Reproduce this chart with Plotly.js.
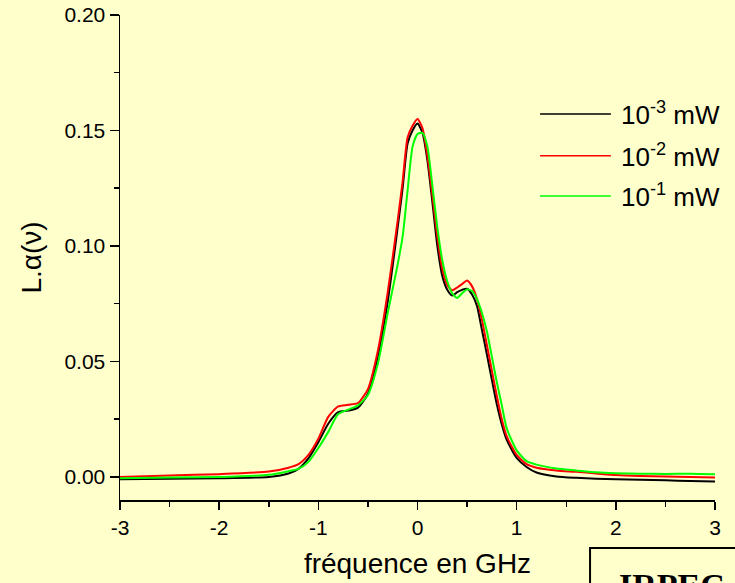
<!DOCTYPE html>
<html>
<head>
<meta charset="utf-8">
<script src="https://cdn.plot.ly/plotly-3.0.1.min.js"></script>
<style>html,body{margin:0;padding:0;background:#FFFFCC;}#chart{width:735px;height:583px;}</style>
</head>
<body>
<div id="chart"></div>
<script>
// Frequency grid (GHz)
const freq = [-3, -2.5, -2, -1.5, -1.3, -1.2, -1.1, -1.0, -0.9, -0.8, -0.7, -0.6, -0.5, -0.4, -0.3, -0.2, -0.15, -0.1, -0.05, 0, 0.05, 0.1, 0.15, 0.2, 0.25, 0.3, 0.35, 0.4, 0.45, 0.5, 0.55, 0.6, 0.65, 0.7, 0.75, 0.8, 0.85, 0.9, 1.0, 1.1, 1.2, 1.4, 1.6, 1.8, 2.0, 2.25, 2.5, 2.75, 3.0];

// L.alpha(nu) at 1e-3 mW
const p1e3 = [-0.001, -0.0008, -0.0006, 0.0, 0.0015, 0.0035, 0.008, 0.015, 0.023, 0.028, 0.0287, 0.030, 0.036, 0.052, 0.076, 0.108, 0.125, 0.1444, 0.150, 0.153, 0.149, 0.137, 0.119, 0.100, 0.087, 0.081, 0.0785, 0.080, 0.081, 0.0815, 0.079, 0.074, 0.0636, 0.053, 0.042, 0.0314, 0.0227, 0.016, 0.0082, 0.0043, 0.0019, 0.0002, -0.0004, -0.0008, -0.001, -0.0012, -0.0015, -0.0018, -0.002];

// L.alpha(nu) at 1e-2 mW
const p1e2 = [0.0, 0.0006, 0.0012, 0.0023, 0.004, 0.0055, 0.0095, 0.0165, 0.026, 0.0305, 0.0312, 0.032, 0.038, 0.0545, 0.080, 0.111, 0.128, 0.147, 0.152, 0.155, 0.151, 0.139, 0.122, 0.104, 0.090, 0.0830, 0.0808, 0.082, 0.0835, 0.085, 0.0825, 0.077, 0.068, 0.057, 0.046, 0.035, 0.025, 0.0175, 0.0095, 0.0055, 0.004, 0.0028, 0.0022, 0.0015, 0.0008, 0.0004, 0.0002, 0.0, -0.0003];

// L.alpha(nu) at 1e-1 mW
const p1e1 = [-0.0006, -0.0003, 0.0, 0.0009, 0.0025, 0.0035, 0.0065, 0.0125, 0.0195, 0.0272, 0.0291, 0.031, 0.0355, 0.049, 0.071, 0.092, 0.104, 0.124, 0.143, 0.1485, 0.149, 0.143, 0.126, 0.108, 0.0937, 0.0847, 0.0795, 0.0775, 0.0795, 0.0812, 0.0805, 0.077, 0.071, 0.063, 0.052, 0.041, 0.031, 0.021, 0.0115, 0.0068, 0.0053, 0.0036, 0.0028, 0.002, 0.0016, 0.0014, 0.0013, 0.0014, 0.0012];

const seriesNames = ['10<sup>-3</sup> mW', '10<sup>-2</sup> mW', '10<sup>-1</sup> mW'];
const seriesColors = ['#000000', '#FF0000', '#00FF00'];
const seriesValues = [p1e3, p1e2, p1e1];

const yTickVals = [0, 0.05, 0.10, 0.15, 0.20];
const yTickText = ['0.00', '0.05', '0.10', '0.15', '0.20'];
const xTickVals = [-3, -2, -1, 0, 1, 2, 3];
const xTickText = ['-3', '-2', '-1', '0', '1', '2', '3'];

const traces = seriesValues.map((v, i) => ({
  x: freq, y: v, type: 'scatter', mode: 'lines', name: seriesNames[i],
  line: {color: seriesColors[i], width: 2, shape: 'spline', smoothing: 0.6}, showlegend: false
}));

const font = 'Liberation Sans, Arial, sans-serif';
const legendY = [0.796, 0.710, 0.627];
const shapes = [];
const annotations = [];
seriesNames.forEach((n, i) => {
  shapes.push({type: 'line', xref: 'paper', yref: 'paper', x0: 0.706, x1: 0.825, y0: legendY[i], y1: legendY[i],
    line: {color: seriesColors[i], width: 1.5}});
  annotations.push({xref: 'paper', yref: 'paper', x: 0.838, y: legendY[i], xanchor: 'left', yanchor: 'middle',
    text: n, showarrow: false, font: {family: font, size: 26, color: '#000'}});
});
// partial box at bottom right
shapes.push({type: 'rect', xref: 'paper', yref: 'paper', x0: 0.79, x1: 1.2, y0: -0.099, y1: -0.5,
  line: {color: '#000', width: 2}, fillcolor: '#FFFFCC'});
annotations.push({xref: 'paper', yref: 'paper', x: 0.835, y: -0.134, xanchor: 'left', yanchor: 'top',
  text: '<b>IRPEC</b>', showarrow: false, font: {family: 'Liberation Serif, Times New Roman, serif', size: 34, color: '#000'}});

const layout = {
  width: 735, height: 583,
  paper_bgcolor: '#FFFFCC', plot_bgcolor: '#FFFFCC',
  margin: {l: 120, r: 20, t: 15, b: 83},
  showlegend: false,
  xaxis: {
    range: [-3, 3], tickvals: xTickVals, ticktext: xTickText,
    ticks: 'outside', ticklen: 8, tickwidth: 1.5, tickcolor: '#000',
    showline: true, linecolor: '#000', linewidth: 1.5, showgrid: false, zeroline: false,
    tickfont: {family: font, size: 21, color: '#000'},
    minor: {dtick: 0.5, ticks: 'outside', ticklen: 5, tickwidth: 1.5, tickcolor: '#000', showgrid: false},
    title: {text: 'fréquence en GHz', font: {family: font, size: 28, color: '#000'}, standoff: 15},
    automargin: false
  },
  yaxis: {
    range: [-0.01, 0.2], tickvals: yTickVals, ticktext: yTickText,
    ticks: 'outside', ticklen: 9, tickwidth: 1.5, tickcolor: '#000',
    showline: true, linecolor: '#000', linewidth: 1.5, showgrid: false, zeroline: false,
    tickfont: {family: font, size: 21, color: '#000'},
    minor: {dtick: 0.025, ticks: 'outside', ticklen: 5, tickwidth: 1.5, tickcolor: '#000', showgrid: false},
    title: {text: 'L.α(ν)', font: {family: font, size: 28, color: '#000'}, standoff: 14},
    automargin: false
  },
  shapes: shapes,
  annotations: annotations
};

Plotly.newPlot('chart', traces, layout, {displayModeBar: false, staticPlot: true});
</script>
</body>
</html>
